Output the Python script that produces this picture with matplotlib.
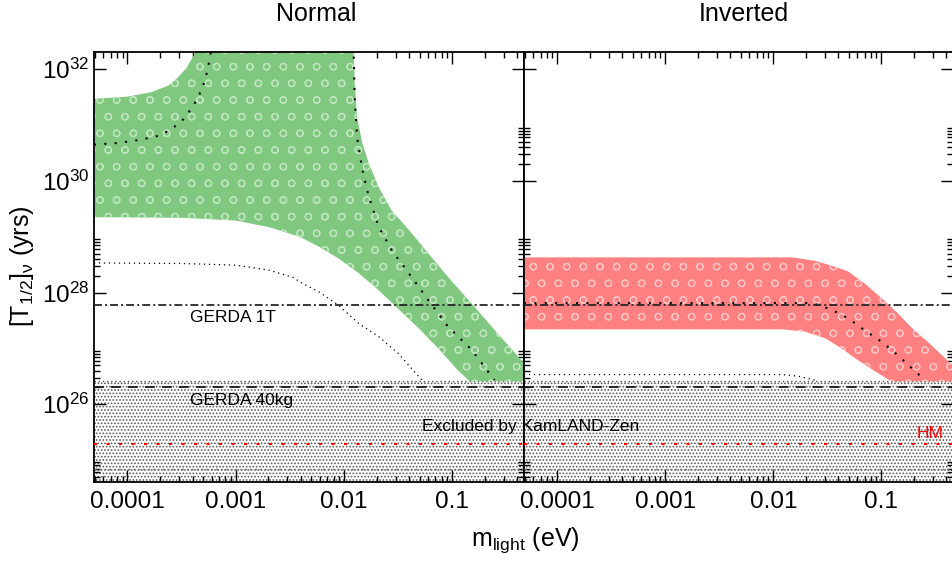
"""0vbb half-life vs lightest neutrino mass, normal / inverted ordering."""
import numpy as np
import matplotlib; matplotlib.use("Agg")
import matplotlib.pyplot as plt
from matplotlib.ticker import FixedLocator, FixedFormatter, NullFormatter

plt.rcParams["font.family"] = ["Liberation Sans", "DejaVu Sans"]
plt.rcParams["mathtext.fontset"] = "custom"
plt.rcParams["mathtext.rm"] = "Liberation Sans"
plt.rcParams["mathtext.it"] = "Liberation Sans:italic"
plt.rcParams["hatch.linewidth"] = 0.8

# all values are log10(m_light / eV) and log10(T_1/2 / yr)
# --- normal ordering band
no_lo_m = [-4.31, -3.5, -3.0, -2.69, -2.41, -2.23, -2.05, -1.86, -1.68, -1.50, -1.31, -1.13, -0.95, -0.84, -0.30]
no_lo_t = [29.35, 29.34, 29.29, 29.17, 29.0, 28.82, 28.61, 28.34, 28.04, 27.71, 27.36, 27.0, 26.61, 26.41, 26.41]
no_hi_right_m = [-0.30, -0.35, -0.39, -0.61, -0.82, -1.04, -1.22, -1.40, -1.56, -1.68, -1.77, -1.83, -1.88, -1.90, -1.91, -1.91]
no_hi_right_t = [26.70, 26.76, 26.85, 27.33, 27.80, 28.28, 28.70, 29.12, 29.47, 29.89, 30.31, 30.67, 31.15, 31.74, 32.28, 32.6]
no_hi_left_m = [-3.34, -3.37, -3.45, -3.53, -3.62, -3.78, -4.0, -4.31]
no_hi_left_t = [32.6, 32.31, 32.04, 31.86, 31.71, 31.59, 31.51, 31.47]
no_mid_a_m = [-4.31, -4.09, -3.87, -3.71, -3.59, -3.48, -3.39, -3.31, -3.26, -3.23, -3.21]
no_mid_a_t = [30.65, 30.68, 30.74, 30.81, 30.93, 31.11, 31.35, 31.65, 31.98, 32.31, 32.6]
no_mid_b_m = [-1.91, -1.91, -1.90, -1.88, -1.83, -1.77, -1.68, -1.56, -1.40, -1.22, -1.04, -0.82, -0.61]
no_mid_b_t = [32.6, 32.22, 31.44, 30.79, 30.19, 29.71, 29.18, 28.76, 28.34, 27.86, 27.39, 26.97, 26.43]
no_low_m = [-4.31, -3.5, -3.0, -2.69, -2.47, -2.38, -2.23, -2.05, -1.86, -1.68, -1.50, -1.28]
no_low_t = [28.53, 28.52, 28.49, 28.40, 28.27, 28.16, 28.01, 27.77, 27.44, 27.21, 26.91, 26.43]
# --- inverted ordering band
io_hi_m = [-4.31, -1.83, -1.62, -1.46, -1.31, -1.16, -1.0, -0.85, -0.70, -0.54, -0.36, -0.30]
io_hi_t = [28.63, 28.63, 28.57, 28.48, 28.38, 28.17, 27.90, 27.63, 27.33, 27.06, 26.73, 26.66]
io_lo_m = [-4.31, -1.92, -1.71, -1.52, -1.37, -1.22, -1.06, -0.91, -0.30]
io_lo_t = [27.34, 27.34, 27.30, 27.18, 27.0, 26.79, 26.59, 26.41, 26.41]
io_mid_m = [-4.31, -1.68, -1.585, -1.46, -1.31, -1.16, -1.0, -0.85, -0.70, -0.59]
io_mid_t = [27.81, 27.81, 27.78, 27.69, 27.54, 27.33, 27.12, 26.88, 26.61, 26.42]
io_low_m = [-4.31, -1.92, -1.77, -1.59]
io_low_t = [26.53, 26.53, 26.50, 26.42]
# --- horizontal limits (log10 T)
gerda_1t = 27.77
gerda_40kg = 26.31
kamland = 26.41
hm = 25.29
floor_line = 24.84

p = lambda v: 10 ** np.asarray(v, dtype=float)

W, H = 953, 561
fig = plt.figure(figsize=(W / 100, H / 100), dpi=100)
ax1 = fig.add_axes([94 / W, 79.3 / H, 430 / W, 429.7 / H])
ax2 = fig.add_axes([524 / W, 79.3 / H, 429 / W, 429.7 / H])

# Normal band: lower edge, then upper edge back (clipped by axis top)
ax1.fill(p(no_lo_m + no_hi_right_m + no_hi_left_m), p(no_lo_t + no_hi_right_t + no_hi_left_t),
         facecolor="#80c880", edgecolor="#bfe6bf", hatch="o", lw=0, zorder=2)
ax1.plot(p(no_mid_a_m), p(no_mid_a_t), color="k", lw=1.5, ls=(0, (1, 4)), zorder=3)
ax1.plot(p(no_mid_b_m), p(no_mid_b_t), color="k", lw=1.5, ls=(0, (1, 4)), zorder=3)
ax1.plot(p(no_low_m), p(no_low_t), color="k", lw=0.9, ls=(0, (1, 3)), zorder=3)

ax2.fill(p(io_hi_m + io_lo_m[::-1]), p(io_hi_t + io_lo_t[::-1]),
         facecolor="#ff8080", edgecolor="#ffc2c2", hatch="o", lw=0, zorder=2)
ax2.plot(p(io_mid_m), p(io_mid_t), color="k", lw=1.5, ls=(0, (1, 4)), zorder=3)
ax2.plot(p(io_low_m), p(io_low_t), color="k", lw=0.9, ls=(0, (1, 3)), zorder=3)

for ax in (ax1, ax2):
    ax.set_xscale("log"); ax.set_yscale("log")
    ax.axhspan(1e20, 10 ** kamland, facecolor="white", edgecolor="0.35", hatch=".....", lw=0, zorder=1)
    ax.axhline(10 ** kamland, color="0.3", lw=1.0, ls=(0, (1, 2)), zorder=1.5)
    ax.axhline(10 ** gerda_1t, color="0.15", lw=1.3, ls=(0, (4.4, 1.7, 1.1, 1.7)), zorder=4)
    ax.axhline(10 ** gerda_40kg, color="0.1", lw=1.3, ls=(0, (5.5, 3.9)), zorder=4)
    ax.axhline(10 ** hm, color="red", lw=1.5, ls=(0, (1.5, 4.5)), zorder=4)
    ax.axhline(10 ** floor_line, color="0.45", lw=1.0, ls=(0, (1.5, 2)), zorder=4)
    ax.set_xlim(10 ** -4.309, 10 ** -0.3375)
    ax.set_ylim(10 ** 24.61, 10 ** 32.31)

    ax.xaxis.set_major_locator(FixedLocator([1e-4, 1e-3, 1e-2, 1e-1]))
    ax.xaxis.set_major_formatter(FixedFormatter(["0.0001", "0.001", "0.01", "0.1"]))
    ax.xaxis.set_minor_locator(FixedLocator([k * 10.0 ** e for e in range(-5, 0) for k in range(2, 10)]))
    ax.xaxis.set_minor_formatter(NullFormatter())
    ax.yaxis.set_major_locator(FixedLocator([1e24, 1e26, 1e28, 1e30, 1e32]))
    ax.yaxis.set_major_formatter(FixedFormatter([r"$\mathregular{10^{%d}}$" % e for e in (24, 26, 28, 30, 32)]))
    ax.yaxis.set_minor_locator(FixedLocator([k * 10.0 ** e for e in (24, 26, 28, 30) for k in range(2, 10)]))
    ax.yaxis.set_minor_formatter(NullFormatter())
    ax.tick_params(which="both", direction="in", top=True, right=True, width=1.0, labelsize=17.5)
    ax.tick_params(which="major", length=8.5)
    ax.tick_params(which="minor", length=4.5)
    ax.tick_params(axis="x", pad=7)
    for s in ax.spines.values():
        s.set_linewidth(1.3)
ax2.tick_params(axis="y", labelleft=False)

ax1.text(3.8e-4, 10 ** 27.56, "GERDA 1T", fontsize=12.5, ha="left", va="center", zorder=5)
ax1.text(3.8e-4, 10 ** 26.07, "GERDA 40kg", fontsize=12.5, ha="left", va="center", zorder=5)
ax2.text(0.378, 10 ** 25.48, "HM", fontsize=12.5, color="red", ha="right", va="center", zorder=5)
fig.text(421.7 / W, 1 - 426.7 / H, "Excluded by KamLAND-Zen", fontsize=12.5, ha="left", va="center", zorder=10)

fig.text(316 / W, 1 - 14 / H, "Normal", fontsize=18, ha="center", va="center")
fig.text(744 / W, 1 - 14 / H, "Inverted", fontsize=18, ha="center", va="center")
fig.text(525 / W, 1 - 540 / H, r"m$_{\mathregular{light}}$ (eV)", fontsize=18, ha="center", va="center")
fig.text(22 / W, 1 - 266 / H, r"[T$_{\mathregular{1/2}}$]$_{\mathregular{\nu}}$ (yrs)", fontsize=18,
         ha="center", va="center", rotation=90)

fig.savefig("out.png", dpi=100)
print("[ok] out.png")
